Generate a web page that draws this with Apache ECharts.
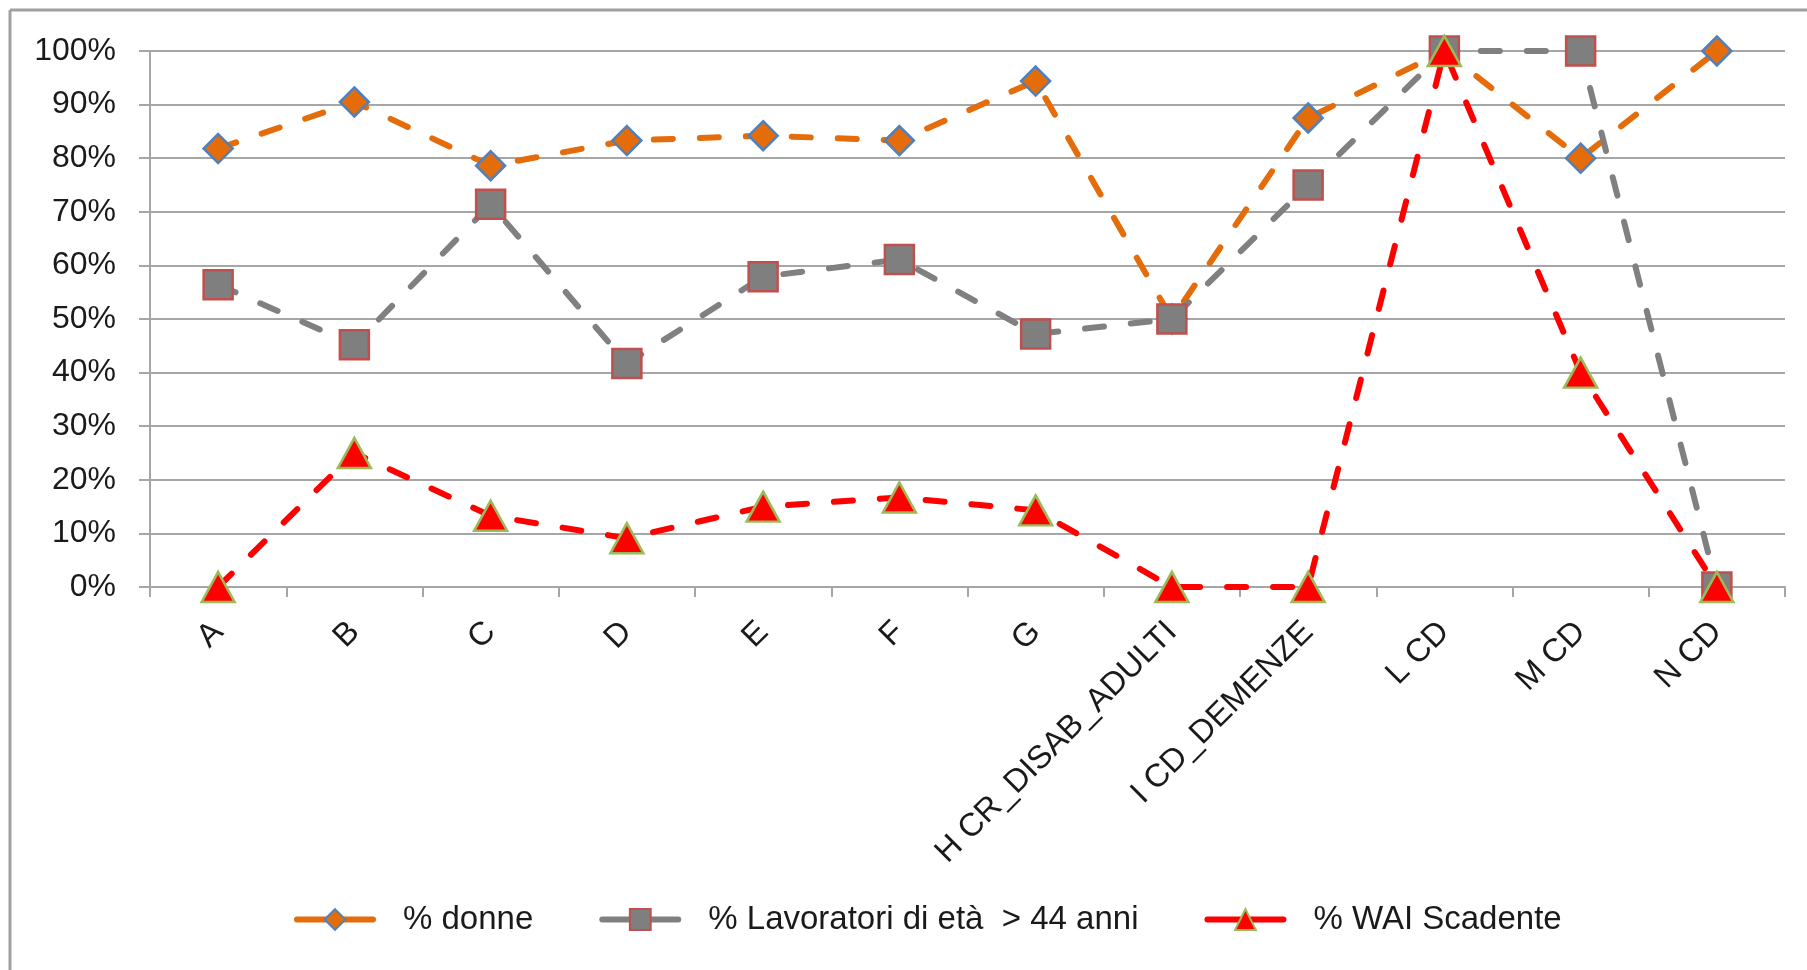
<!DOCTYPE html>
<html>
<head>
<meta charset="utf-8">
<title>% donne, % Lavoratori di età > 44 anni, % WAI Scadente</title>
<script src="https://cdn.jsdelivr.net/npm/echarts@6/dist/echarts.min.js"></script>
<style>
  html, body { margin: 0; padding: 0; background: #ffffff; }
  #chart { width: 1807px; height: 970px; }
</style>
</head>
<body>
<div id="chart"></div>
<script>
// Categories (units) along the horizontal axis
const categories = ['A', 'B', 'C', 'D', 'E', 'F', 'G', 'H CR_DISAB_ADULTI', 'I CD_DEMENZE', 'L CD', 'M CD', 'N CD'];

// Series values, in percent
const donne = [81.8, 90.5, 78.6, 83.3, 84.2, 83.3, 94.4, 50, 87.5, 100, 80, 100];
const lavoratori44 = [56.4, 45.2, 71.4, 41.7, 57.9, 61.1, 47.2, 50, 75, 100, 100, 0];
const waiScadente = [0, 25, 13.3, 9.1, 15, 16.7, 14.3, 0, 0, 100, 40, 0];

// Series names as shown in the legend
const seriesNames = ['% donne', '% Lavoratori di età  > 44 anni', '% WAI Scadente'];

// Value axis range and step
const yMin = 0, yMax = 100, yStep = 10;

const FONT = 'Liberation Sans';
const AXIS_GRAY = '#a6a6a6';
const DASH = [19, 27];

const chart = echarts.init(document.getElementById('chart'), null, { renderer: 'canvas' });

function lineSeries(name, data, symbol, size, fill, border, lineColor) {
  return {
    name: name,
    type: 'line',
    data: data,
    symbol: symbol,
    symbolSize: size,
    showAllSymbol: true,
    itemStyle: { color: fill, borderColor: border, borderWidth: 2.5 },
    lineStyle: { color: lineColor, width: 6, type: DASH, cap: 'round' },
    emphasis: { disabled: true }
  };
}

const option = {
  animation: false,
  backgroundColor: '#ffffff',
  textStyle: { fontFamily: FONT },
  graphic: [
    { type: 'line', shape: { x1: 10, y1: 10, x2: 10, y2: 970 }, style: { stroke: '#a0a0a0', lineWidth: 3 } },
    { type: 'line', shape: { x1: 10, y1: 10, x2: 1807, y2: 10 }, style: { stroke: '#a0a0a0', lineWidth: 3 } }
  ],
  grid: { left: 150, right: 22, top: 51, bottom: 383, containLabel: false },
  legend: {
    left: 289,
    top: 898,
    itemWidth: 76,
    itemHeight: 26,
    itemGap: 66,
    data: seriesNames,
    lineStyle: { width: 6, type: 'solid' },
    textStyle: { fontFamily: FONT, fontSize: 33, color: '#1a1a1a', padding: [0, 0, 0, 25] }
  },
  xAxis: {
    type: 'category',
    data: categories,
    boundaryGap: true,
    axisLine: { show: true, lineStyle: { color: AXIS_GRAY, width: 2 } },
    axisTick: { show: true, length: 10, lineStyle: { color: AXIS_GRAY, width: 2 } },
    axisLabel: { interval: 0, rotate: 45, margin: 40, fontFamily: FONT, fontSize: 32.5, color: '#1a1a1a' },
    splitLine: { show: false }
  },
  yAxis: {
    type: 'value',
    min: yMin,
    max: yMax,
    interval: yStep,
    axisLine: { show: true, lineStyle: { color: AXIS_GRAY, width: 2 } },
    axisTick: { show: true, length: 11, lineStyle: { color: AXIS_GRAY, width: 2 } },
    axisLabel: { formatter: '{value}%', margin: 34, fontFamily: FONT, fontSize: 32, color: '#1a1a1a' },
    splitLine: { show: true, lineStyle: { color: AXIS_GRAY, width: 2 } }
  },
  series: [
    lineSeries(seriesNames[0], donne, 'diamond', 29, '#E46C0A', '#4F81BD', '#E46C0A'),
    lineSeries(seriesNames[1], lavoratori44, 'rect', 29, '#7F7F7F', '#C0504D', '#808080'),
    lineSeries(seriesNames[2], waiScadente, 'triangle', [33, 30], '#FF0000', '#9BBB59', '#FF0000')
  ]
};

chart.setOption(option);
</script>
</body>
</html>
